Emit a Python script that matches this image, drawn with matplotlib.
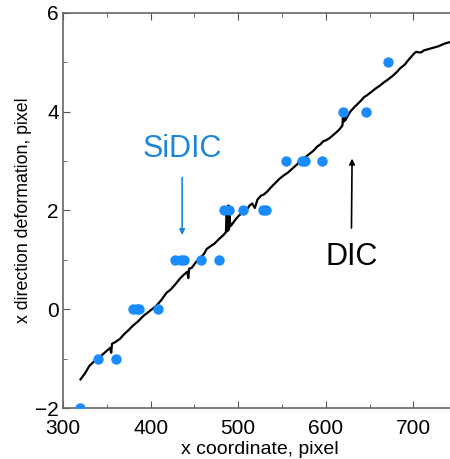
import matplotlib.pyplot as plt
from matplotlib.ticker import MultipleLocator

plt.rcParams['font.family'] = ['Liberation Sans', 'DejaVu Sans']

# SiDIC points
sidic_x = [319, 340, 361, 380, 384, 387, 409, 428, 435, 438, 458, 478,
           484, 489, 505, 528, 532, 555, 573, 576, 596, 620, 646, 671]
sidic_y = [-2, -1, -1, 0, 0, 0, 0, 1, 1, 1, 1, 1,
           2, 2, 2, 2, 2, 3, 3, 3, 3, 4, 4, 5]

# DIC line (with the small jumps)
dic_x = [320, 325, 330, 334, 340, 345, 350, 354, 355, 356,
         360, 365, 370, 375, 380, 386, 392, 398, 403, 407,
         412, 418, 423, 428, 434, 438, 442, 443, 444, 447,
         452, 457, 461, 464, 468, 473, 478, 483, 486, 487,
         487.5, 488, 488.5, 489, 489.5, 490, 491, 493, 497, 501,
         505, 509, 513, 516, 519, 522, 526, 529, 533, 537,
         542, 547, 552, 557, 562, 567, 571, 576, 581, 586,
         590, 594, 597, 600, 604, 608, 612, 616, 619, 620,
         620.5, 621, 622, 624, 628, 632, 636, 640, 644, 647,
         652, 657, 662, 666, 671, 676, 681, 685, 690, 694,
         698, 701, 703, 706, 709, 712, 716, 720, 724, 728,
         732, 736, 740, 745]
dic_y = [-1.42, -1.30, -1.15, -1.08, -0.99, -0.92, -0.84, -0.78, -0.88, -0.70,
         -0.66, -0.60, -0.50, -0.42, -0.33, -0.24, -0.13, -0.05, 0.02, 0.08,
         0.18, 0.33, 0.40, 0.50, 0.63, 0.70, 0.76, 0.63, 0.82, 0.84,
         0.96, 1.05, 1.12, 1.22, 1.27, 1.33, 1.42, 1.50, 1.56, 2.05,
         1.58, 2.08, 1.60, 2.10, 1.62, 1.95, 1.68, 1.72, 1.82, 1.90,
         1.95, 2.00, 2.10, 2.14, 2.05, 2.22, 2.30, 2.32, 2.38, 2.46,
         2.55, 2.64, 2.71, 2.77, 2.85, 2.93, 3.00, 3.07, 3.14, 3.21,
         3.29, 3.34, 3.40, 3.42, 3.46, 3.52, 3.58, 3.65, 3.72, 4.05,
         3.80, 3.98, 3.82, 3.88, 4.00, 4.08, 4.15, 4.22, 4.30, 4.33,
         4.40, 4.47, 4.53, 4.59, 4.65, 4.72, 4.80, 4.88, 4.95, 5.04,
         5.12, 5.18, 5.21, 5.20, 5.20, 5.24, 5.26, 5.28, 5.30, 5.32,
         5.35, 5.38, 5.40, 5.42]

fig = plt.figure(figsize=(4.5, 4.59), dpi=100)
ax = fig.add_axes([0.14, 0.111, 0.876, 0.861])

ax.plot(dic_x, dic_y, color='black', lw=1.6, zorder=2)
ax.plot(sidic_x, sidic_y, 'o', color='#1a8cff', markersize=7.5, markeredgewidth=0, zorder=3)

ax.annotate('SiDIC', xy=(436, 1.50), xytext=(436, 3.25), ha='center', va='center',
            color='#1f86d6', fontsize=22,
            arrowprops=dict(arrowstyle='-|>', color='#1f86d6', lw=1.2, mutation_scale=8,
                            shrinkA=8, shrinkB=0))
ax.annotate('DIC', xy=(630, 3.05), xytext=(629, 1.06), ha='center', va='center',
            color='black', fontsize=22,
            arrowprops=dict(arrowstyle='-|>', color='black', lw=1.2, mutation_scale=8,
                            shrinkA=8, shrinkB=0))

ax.set_xlim(300, 750)
ax.set_ylim(-2, 6)
ax.xaxis.set_major_locator(MultipleLocator(100))
ax.xaxis.set_minor_locator(MultipleLocator(50))
ax.yaxis.set_major_locator(MultipleLocator(2))
ax.yaxis.set_minor_locator(MultipleLocator(1))
ax.tick_params(which='both', direction='in', top=True, right=True, color='#555555',
               labelsize=15)
ax.tick_params(axis='x', pad=8)
ax.tick_params(axis='y', pad=3)
ax.tick_params(which='major', length=5)
ax.tick_params(which='minor', length=3)
for s in ax.spines.values():
    s.set_color('#666666')
    s.set_linewidth(1.2)

ax.set_xlabel('x coordinate, pixel', fontsize=14, labelpad=2)
ax.set_ylabel('x direction deformation, pixel', fontsize=12.8, labelpad=2)

fig.savefig('out.png', dpi=100)
